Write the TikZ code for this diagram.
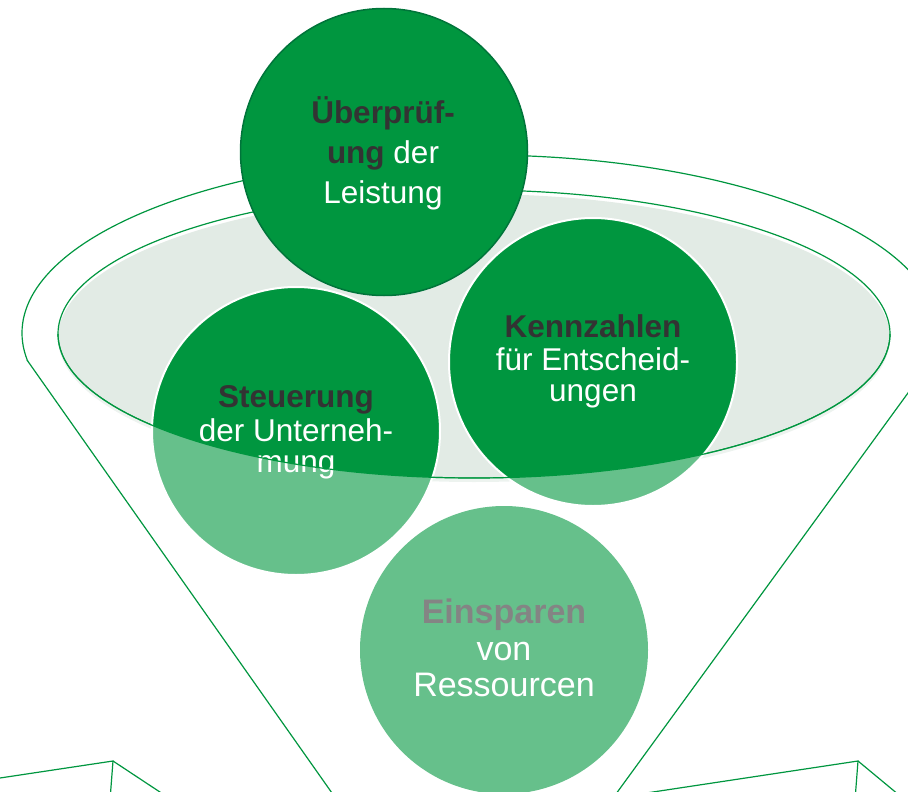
\documentclass[tikz,border=0pt]{standalone}
\usepackage{fontspec}
\setmainfont{Liberation Sans}
\definecolor{dkgreen}{HTML}{00963F}
\definecolor{rimgreen}{HTML}{00963F}
\definecolor{borderdk}{HTML}{00743A}
\definecolor{mouthfill}{HTML}{E2EBE5}
\definecolor{txtdark}{HTML}{333333}
\tikzset{
  rim/.style={draw=rimgreen, line width=1.2pt},
  bubble/.style={circle, inner sep=0pt, minimum size=288pt, fill=dkgreen},
  lbl/.style={anchor=base, inner sep=0pt, text=white, font=\fontsize{31.5}{38}\selectfont},
  boldlbl/.style={lbl, text=txtdark, font=\fontsize{31.5}{38}\selectfont\bfseries},
  biglbl/.style={lbl, font=\fontsize{34}{38}\selectfont},
  bigboldlbl/.style={lbl, text=txtdark, font=\fontsize{34}{38}\selectfont\bfseries},
  mouth/.style={x radius=416pt, y radius=144pt}
}
\begin{document}
\begin{tikzpicture}[x=1pt,y=-1pt]
\clip (0,0) rectangle (908,792);
% outer rim of the funnel
\begin{scope}
  \clip (-20,-20) rectangle (960,360);
  \draw[rim] (480,333) ellipse [x radius=458pt, y radius=178pt];
\end{scope}
% funnel mouth
\fill[mouthfill] (474,338) ellipse [mouth];
\draw[rim] (474,334) ellipse [mouth];
% circles
\node[bubble, draw=white, line width=2pt] (steu) at (296,431) {};
\node[bubble, draw=white, line width=2pt] (kenn) at (593,362) {};
\node[bubble, draw=borderdk, line width=1.5pt, minimum size=287pt] (pruef) at (384,152) {};
\node[bubble] (spar) at (504,650) {};
% texts
\node[boldlbl] (p1) at (383,124) {Überprüf-};
\node[lbl] (p2) at (383,163) {{\bfseries\color{txtdark}ung} der};
\node[lbl] (p3) at (383,203) {Leistung};
\node[boldlbl] (s1) at (296,407) {Steuerung};
\node[lbl] (s2) at (296,441) {der Unterneh-};
\node[lbl] (s3) at (296,472) {mung};
\node[boldlbl] (k1) at (593,337) {Kennzahlen};
\node[lbl] (k2) at (593,370) {für Entscheid-};
\node[lbl] (k3) at (593,401) {ungen};
\node[bigboldlbl] (e1) at (504,623) {Einsparen};
\node[biglbl] (e2) at (504,660) {von};
\node[biglbl] (e3) at (504,696) {Ressourcen};
% translucent funnel body
\begin{scope}
  \clip (58,337) -- (27,360) -- (351,820) -- (597,820) -- (932,360) -- (890,337) -- cycle;
  \fill[white, fill opacity=0.4, even odd rule]
    (58,330) -- (27,360) -- (351,820) -- (597,820) -- (932,360) -- (890,330) -- cycle
    (474,334) ellipse [mouth];
\end{scope}
% lower edge of the mouth in front
\begin{scope}
  \clip (0,334) rectangle (908,520);
  \draw[rim] (474,334) ellipse [mouth];
\end{scope}
% funnel sides
\coordinate (kl) at (27,360);
\coordinate (kr) at (932,360);
\coordinate (bl) at (351,820);
\coordinate (br) at (597,820);
\draw[rim] (kl) -- (bl);
\draw[rim] (kr) -- (br);
% partial shapes at the bottom
\coordinate (dl) at (113,761);
\coordinate (dr) at (858,761);
\draw[rim] (-10,779.5) -- (dl) -- (110,800);
\draw[rim] (dl) -- (172,800);
\draw[rim] (600,800) -- (dr) -- (855,800);
\draw[rim] (dr) -- (905,800);
\end{tikzpicture}
\end{document}
